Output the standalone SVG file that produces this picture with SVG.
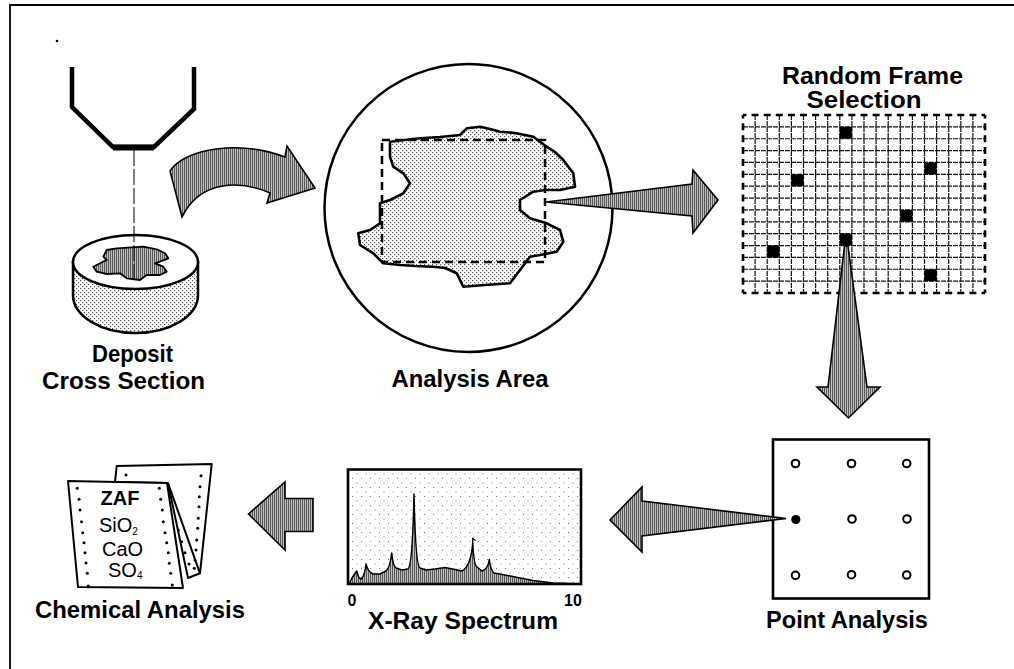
<svg xmlns="http://www.w3.org/2000/svg" width="1014" height="669" viewBox="0 0 1014 669">
  <style>
    .lbl { font-family: "Liberation Sans", Arial, sans-serif; font-weight: bold; font-size: 24px; fill: #000; text-anchor: middle; }
    .chem { font-family: "Liberation Sans", Arial, sans-serif; font-size: 20px; fill: #000; }
    .ax { font-family: "Liberation Sans", Arial, sans-serif; font-weight: bold; font-size: 16px; fill: #000; text-anchor: middle; }
    .arrow { fill: url(#hatch); stroke: #000; stroke-width: 1.6; stroke-linejoin: miter; }
    .hole { fill: #000; }
    .pt { fill: #fff; stroke: #000; stroke-width: 2; }
    .gridline { stroke: #111; stroke-width: 1.2; fill: none; stroke-dasharray: 5 1; }
    .cell { fill: #000; }
  </style>
  <defs>
    <!-- fine vertical hatching used on arrows and the spectrum -->
    <pattern id="hatch" width="2" height="4" patternUnits="userSpaceOnUse">
      <rect width="2" height="4" fill="#c2c2c2"/>
      <rect x="0" y="0" width="1" height="4" fill="#555"/>
    </pattern>
    <!-- light stipple for surfaces -->
    <pattern id="stip" width="4" height="4" patternUnits="userSpaceOnUse">
      <rect width="4" height="4" fill="#fff"/>
      <rect x="0" y="0" width="1.2" height="1.2" fill="#555"/>
      <rect x="2" y="2" width="1.2" height="1.2" fill="#555"/>
    </pattern>
    <!-- sparse dots for the spectrum background -->
    <pattern id="sparse" width="9" height="9" patternUnits="userSpaceOnUse">
      <rect width="9" height="9" fill="#fff"/>
      <rect x="1" y="1" width="1" height="1" fill="#777"/>
      <rect x="5.5" y="5.5" width="1" height="1" fill="#777"/>
    </pattern>
  </defs>

  <rect width="1014" height="669" fill="#fff"/>

  <!-- outer frame -->
  <path d="M10,669 L10,5 L1014,5" fill="none" stroke="#000" stroke-width="1.8"/>
  <circle cx="57" cy="41" r="1.3" fill="#000"/>

  <!-- deposit cross section with probe -->
  <g id="deposit">
    <path d="M73,262 L73,295 A62.5,38 0 0 0 198,295 L198,262 Z" fill="url(#stip)" stroke="#000" stroke-width="2.5"/>
    <ellipse cx="135.5" cy="262" rx="62.5" ry="27" fill="#fff" stroke="#000" stroke-width="2.5"/>
    <path d="M106.7,250 L116.7,248.3 L131.7,247.3 L143.3,246.7 L156.7,249.3 L165,253.3 L168.3,258.3 L160,261.7 L155,263.3 L163.3,266.7 L166.7,271.7 L160,275 L146.7,275 L140,280 L126.7,278.3 L120,273.3 L106.7,274 L96.7,271.7 L93.3,266.7 L100,263.3 L106.7,260 L103.3,256.7 Z" fill="url(#hatch)" stroke="#000" stroke-width="1.8" stroke-linejoin="round"/>
    <path d="M72,67 L72,107 L113,147 L154,147 L194,109 L194,67" fill="none" stroke="#000" stroke-width="4.5" stroke-linejoin="miter"/>
    <line x1="113" y1="147.5" x2="154" y2="147.5" stroke="#000" stroke-width="6"/>
    <line x1="134" y1="150" x2="134" y2="280" stroke="#000" stroke-width="1" stroke-dasharray="16 3"/>
    <text class="lbl" x="132.5" y="362" textLength="81" lengthAdjust="spacingAndGlyphs">Deposit</text>
    <text class="lbl" x="123.5" y="389" textLength="163" lengthAdjust="spacingAndGlyphs">Cross Section</text>
  </g>

  <!-- analysis area -->
  <g id="analysis-area">
    <circle cx="468.5" cy="208" r="144" fill="#fff" stroke="#000" stroke-width="2.5"/>
    <path d="M390,141.7 L405,140 L420,138.3 L440,137 L460,135 L466.7,128.3 L480,126.7 L490,129 L500,131.7 L515,133 L533.3,136.7 L546.7,146.7 L555,152 L563.3,160 L573.3,173.3 L575,186.7 L560,190 L545,190 L533.3,191.7 L520,200 L520,210 L530,218.3 L546.7,223.3 L560,230 L563.3,241.7 L556.7,251.7 L540,255 L530,256.7 L520,270 L510,283.3 L485,285 L463.3,286.7 L456.7,273.3 L445,268 L433.3,266.7 L415,266 L400,265 L383.3,263.3 L373.3,253.3 L360,245 L358.3,233.3 L370,230 L380,223.3 L380,212 L380,203.3 L390,200 L403.3,193.3 L410,183.3 L403.3,173.3 L393.3,166.7 L390,156.7 Z" fill="url(#stip)" stroke="#000" stroke-width="2.6" stroke-linejoin="round"/>
    <rect x="382" y="140" width="163" height="122" fill="none" stroke="#000" stroke-width="2.5" stroke-dasharray="8 5"/>
    <text class="lbl" x="470" y="387" textLength="157" lengthAdjust="spacingAndGlyphs">Analysis Area</text>
  </g>

  <!-- random frame selection grid -->
  <g id="random-frame">
    <text class="lbl" x="872.5" y="84" font-size="21.5" textLength="181" lengthAdjust="spacingAndGlyphs">Random Frame</text>
    <text class="lbl" x="864" y="108" font-size="21.5" textLength="115" lengthAdjust="spacingAndGlyphs">Selection</text>
    <path class="gridline" d="M755.1,115V293 M767.2,115V293 M779.3,115V293 M791.4,115V293 M803.5,115V293 M815.6,115V293 M827.7,115V293 M839.8,115V293 M851.9,115V293 M864,115V293 M876.1,115V293 M888.2,115V293 M900.3,115V293 M912.4,115V293 M924.5,115V293 M936.6,115V293 M948.7,115V293 M960.8,115V293 M972.9,115V293
      M743,126.87H985 M743,138.73H985 M743,150.6H985 M743,162.47H985 M743,174.33H985 M743,186.2H985 M743,198.07H985 M743,209.93H985 M743,221.8H985 M743,233.67H985 M743,245.53H985 M743,257.4H985 M743,269.27H985 M743,281.13H985"/>
    <path d="M743,115H985 M743,293H985" fill="none" stroke="#000" stroke-width="2.6" stroke-dasharray="7 5.1" stroke-dashoffset="3.5"/>
    <path d="M743,115V293 M985,115V293" fill="none" stroke="#000" stroke-width="2.6" stroke-dasharray="7 4.87" stroke-dashoffset="3.5"/>
    <rect class="cell" x="839.8" y="126.87" width="12.1" height="11.87"/>
    <rect class="cell" x="924.5" y="162.47" width="12.1" height="11.87"/>
    <rect class="cell" x="791.4" y="174.33" width="12.1" height="11.87"/>
    <rect class="cell" x="900.3" y="209.93" width="12.1" height="11.87"/>
    <rect class="cell" x="839.8" y="233.67" width="12.1" height="11.87"/>
    <rect class="cell" x="767.2" y="245.53" width="12.1" height="11.87"/>
    <rect class="cell" x="924.5" y="269.27" width="12.1" height="11.87"/>
  </g>

  <!-- point analysis -->
  <g id="point-analysis">
    <rect x="773" y="439.5" width="156" height="159" fill="#fff" stroke="#000" stroke-width="2.6"/>
    <circle class="pt" cx="795.5" cy="463.5" r="3.8"/>
    <circle class="pt" cx="851.5" cy="463.5" r="3.8"/>
    <circle class="pt" cx="906.7" cy="463.5" r="3.8"/>
    <circle cx="795.8" cy="519.5" r="4.6" fill="#000"/>
    <circle class="pt" cx="852" cy="519" r="3.8"/>
    <circle class="pt" cx="907" cy="519" r="3.8"/>
    <circle class="pt" cx="795.5" cy="575.3" r="3.8"/>
    <circle class="pt" cx="851.5" cy="574.7" r="3.8"/>
    <circle class="pt" cx="906.7" cy="575" r="3.8"/>
    <text class="lbl" x="847" y="628" textLength="162" lengthAdjust="spacingAndGlyphs">Point Analysis</text>
  </g>

  <!-- x-ray spectrum -->
  <g id="xray-spectrum">
    <rect x="348" y="469.5" width="233" height="114.5" fill="url(#sparse)"/>
    <path d="M349,584 L352,578 L356.7,571 L359,578 L361.7,579 Q365,574 366,564 Q368,572 373,574 L380,574 L386,571 Q390,568 391.7,553 Q393,566 396,568 L402,570 L408,569 Q412.5,566 414,494 Q415.5,566 420,568 L426,570 L435,569 L445,567.5 L455,569.5 L462,571 Q471,566 472.7,543 Q474,566 477,567 L482,571 Q488,569 489.3,559.5 Q490.5,570 494,573 L505,575 L520,578 L533,580.5 L553,583 L580,584 Z" fill="url(#hatch)" stroke="#000" stroke-width="1.5" stroke-linejoin="round"/>
    <path d="M472.7,544 L472.7,538.5 L475.5,540.5" fill="none" stroke="#000" stroke-width="1.2"/>
    <rect x="348" y="469.5" width="233" height="114.5" fill="none" stroke="#000" stroke-width="2.6"/>
    <text class="ax" x="352" y="606">0</text>
    <text class="ax" x="573" y="606">10</text>
    <text class="lbl" x="463" y="629" textLength="190" lengthAdjust="spacingAndGlyphs">X-Ray Spectrum</text>
  </g>

  <!-- chemical analysis printout -->
  <g id="chemical-analysis">
    <path d="M116.7,466 L211.7,464 L200,573.3 L188,578 L168,483 L115,482 Z" fill="#fff" stroke="#000" stroke-width="2" stroke-linejoin="round"/>
    <line x1="168" y1="483" x2="200" y2="573.3" stroke="#000" stroke-width="2"/>
    <path d="M68,481 L167,483 L183,588 L78,587 Z" fill="#fff" stroke="#000" stroke-width="2" stroke-linejoin="round"/>
    <g class="hole">
      <circle cx="126" cy="475" r="1.5"/>
      <circle cx="201" cy="475.7" r="1.5"/><circle cx="200" cy="486.7" r="1.5"/><circle cx="199.3" cy="496.7" r="1.5"/><circle cx="199" cy="506.7" r="1.5"/><circle cx="198.3" cy="518.3" r="1.5"/><circle cx="197.7" cy="528.3" r="1.5"/><circle cx="196.7" cy="540" r="1.5"/><circle cx="196" cy="550" r="1.5"/><circle cx="195" cy="560" r="1.5"/><circle cx="194.3" cy="568.3" r="1.5"/>
      <circle cx="178.3" cy="530" r="1.5"/><circle cx="181.7" cy="541.7" r="1.5"/><circle cx="185" cy="552.7" r="1.5"/><circle cx="189" cy="564" r="1.5"/>
      <circle cx="77.3" cy="488.3" r="1.5"/><circle cx="79" cy="499.3" r="1.5"/><circle cx="80" cy="510" r="1.5"/><circle cx="81.5" cy="521.7" r="1.5"/><circle cx="82.7" cy="532.7" r="1.5"/><circle cx="84" cy="542.7" r="1.5"/><circle cx="85" cy="552.7" r="1.5"/><circle cx="86" cy="563" r="1.5"/><circle cx="87.3" cy="573.3" r="1.5"/><circle cx="88.3" cy="586" r="1.5"/>
      <circle cx="159.3" cy="488.3" r="1.5"/><circle cx="160.7" cy="499.3" r="1.5"/><circle cx="162.3" cy="510" r="1.5"/><circle cx="163.3" cy="521.7" r="1.5"/><circle cx="165" cy="532.7" r="1.5"/><circle cx="166.7" cy="542.7" r="1.5"/><circle cx="168.3" cy="552.7" r="1.5"/><circle cx="169.3" cy="563.3" r="1.5"/><circle cx="170.7" cy="573.3" r="1.5"/><circle cx="172.3" cy="585" r="1.5"/>
    </g>
    <text class="chem" x="120" y="505" font-weight="bold" text-anchor="middle">ZAF</text>
    <text class="chem" x="99" y="531.5">SiO<tspan font-size="10" dy="3">2</tspan></text>
    <text class="chem" x="122.5" y="555.5" text-anchor="middle">CaO</text>
    <text class="chem" x="108" y="577">SO<tspan font-size="10" dy="2">4</tspan></text>
    <text class="lbl" x="140" y="618" textLength="210" lengthAdjust="spacingAndGlyphs">Chemical Analysis</text>
  </g>

  <!-- connectors -->
  <g id="connectors">
    <path class="arrow" d="M170,171 C185,148 240,140 285,157 L287,146 L315,188 L267,203 L270,193 C240,180 200,180 182,217 Z"/>
    <path class="arrow" d="M546,202 L692,184 L693,170 L718,200 L693,233 L692,216 Z"/>
    <path class="arrow" d="M844.5,246 L848,246 L867,387 L880,387 L848.5,418 L817,387 L828,387 Z"/>
    <path class="arrow" d="M786,518.5 L642,501 L642,487 L610,520 L642,552 L642,536 Z"/>
    <path class="arrow" d="M248.5,514 L285,482 L285,498.5 L313,498.5 L313,531.5 L285,531.5 L285,550 Z"/>
  </g>
</svg>
